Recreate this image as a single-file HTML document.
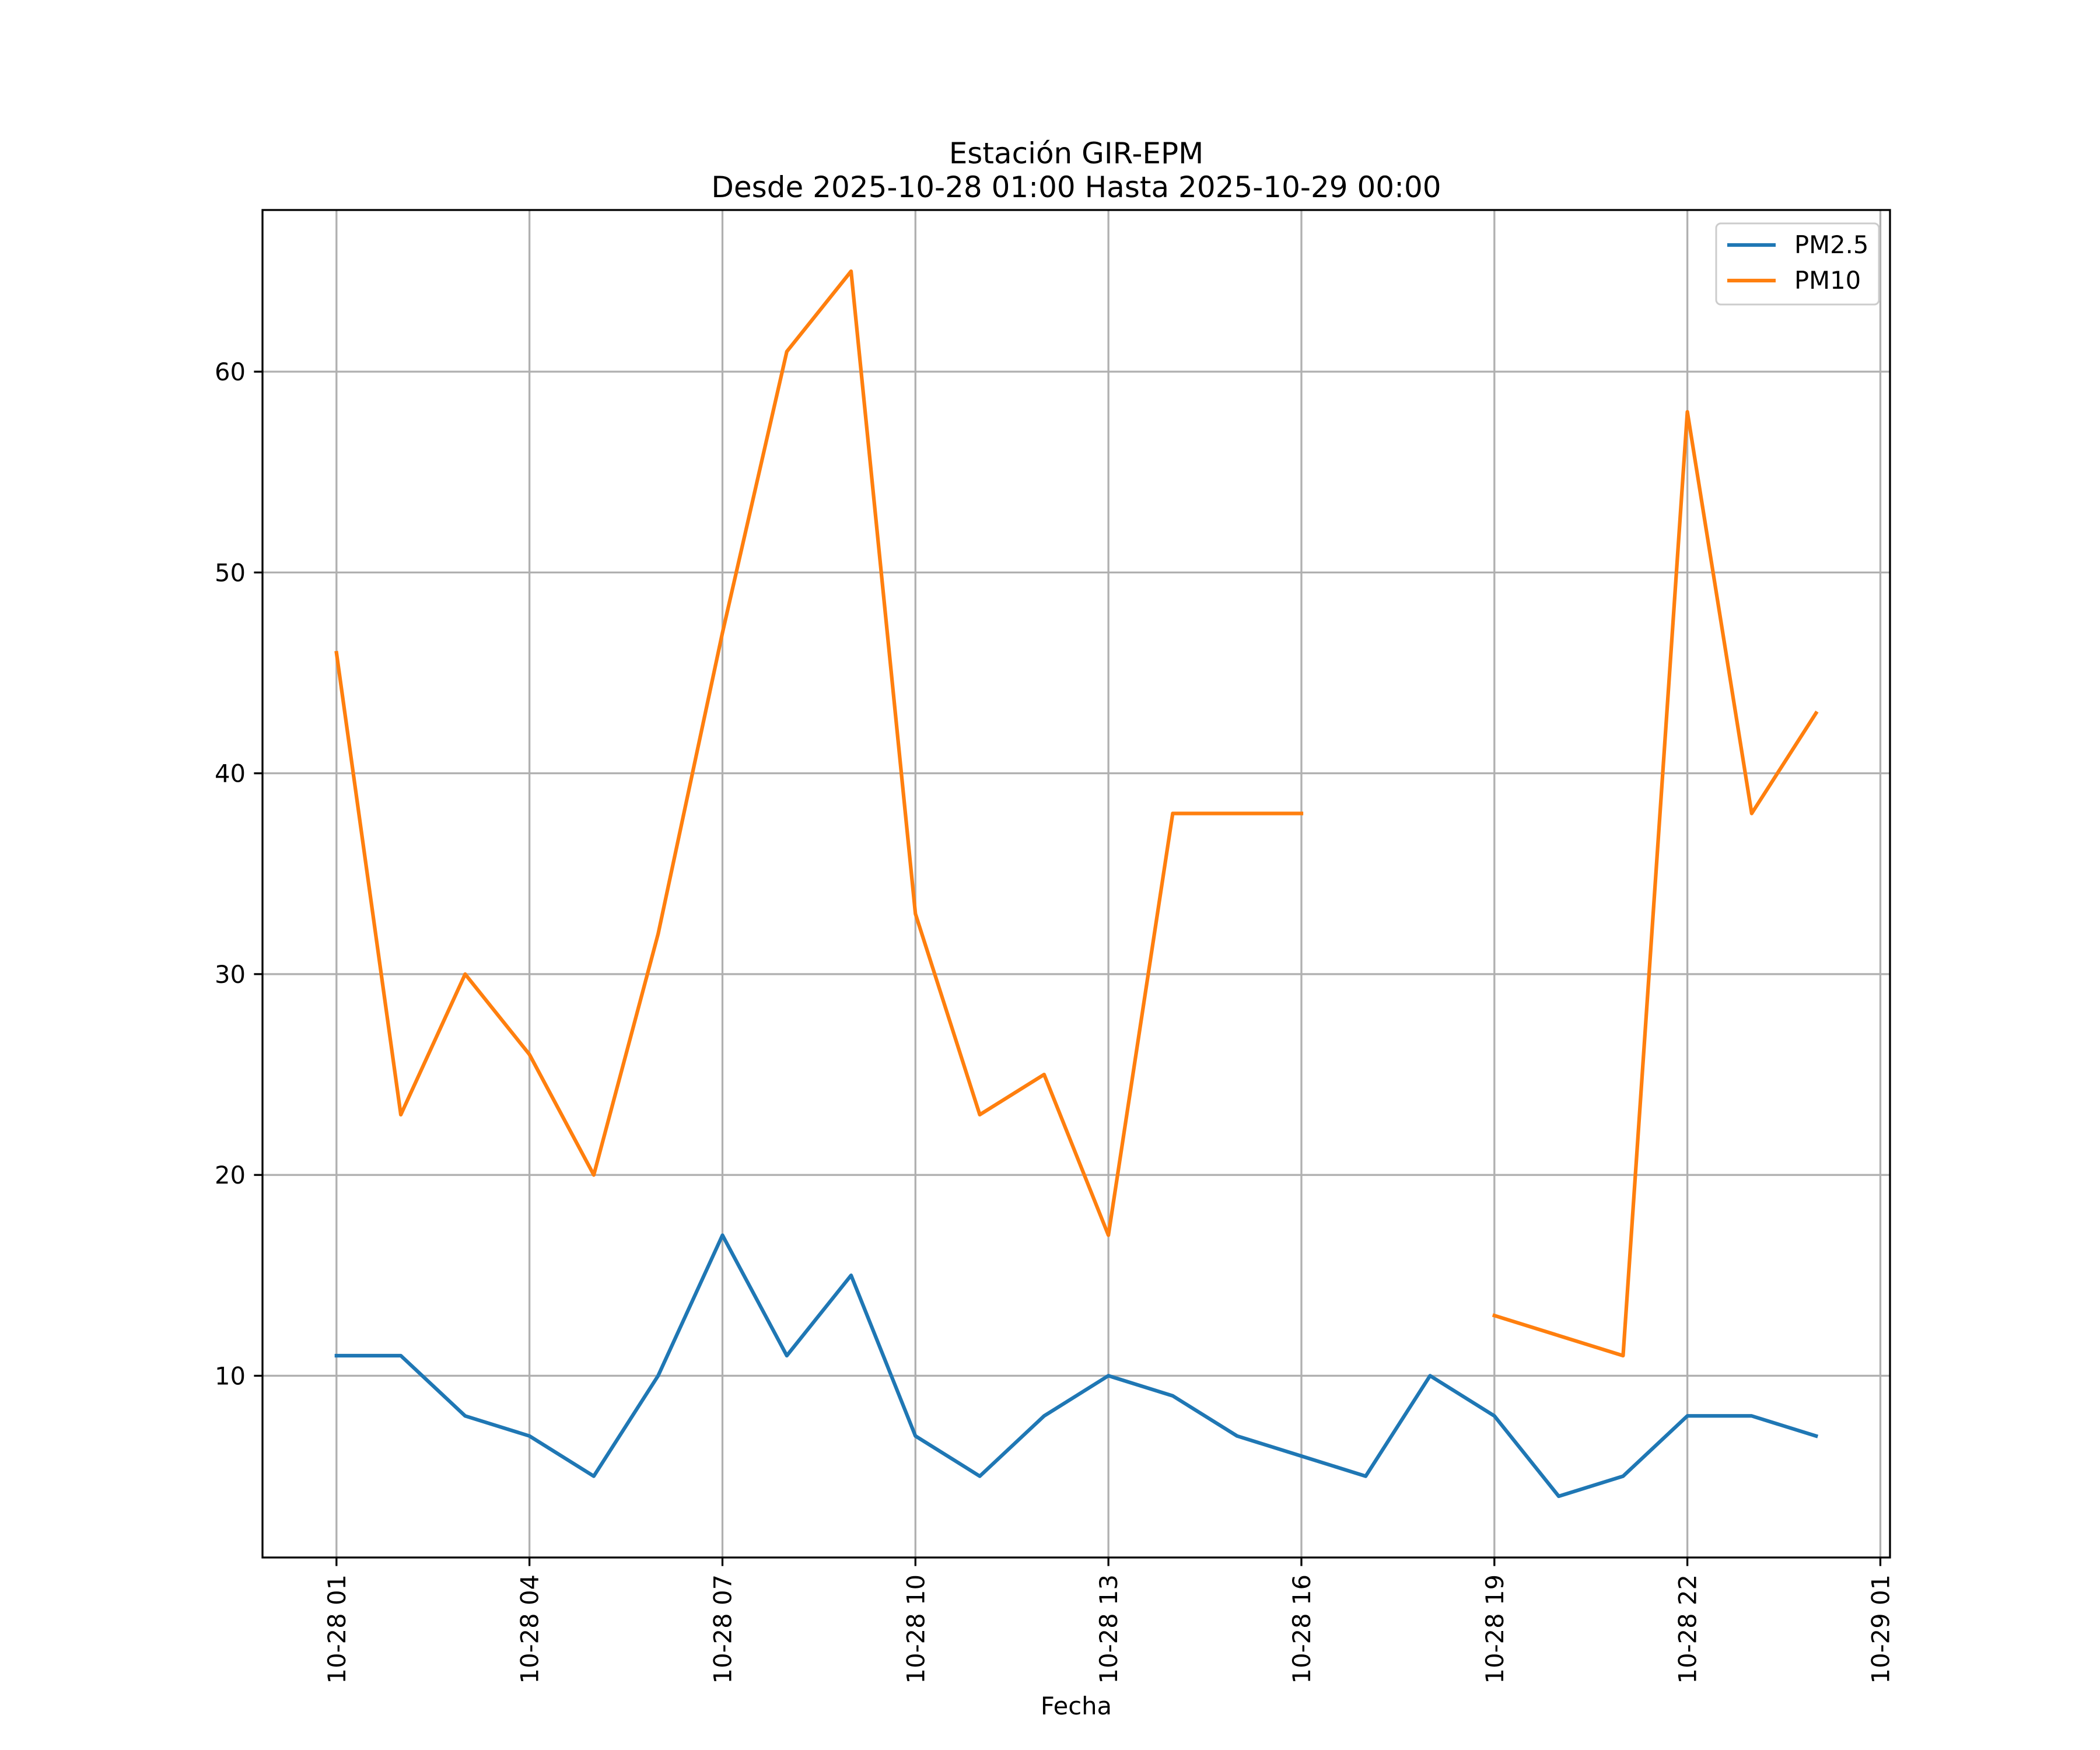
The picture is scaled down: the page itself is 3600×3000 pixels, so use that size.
<!DOCTYPE html>
<html><head><meta charset="utf-8"><style>
html,body{margin:0;padding:0;background:#fff}
svg{display:block}
text{font-family:"DejaVu Sans","Liberation Sans",sans-serif;fill:#000}
</style></head><body>
<svg id="chart" width="3600" height="3000" viewBox="0 0 3600 3000" xmlns="http://www.w3.org/2000/svg">
<rect width="3600" height="3000" fill="#fff"/>
<text x="1845" y="280" font-size="50" text-anchor="middle">Estación GIR-EPM</text>
<text x="1845" y="338" font-size="50" text-anchor="middle">Desde 2025-10-28 01:00 Hasta 2025-10-29 00:00</text>
<g id="grid"></g><g id="series"></g><g id="axes"></g>
<text x="1845" y="2939" font-size="41.7" text-anchor="middle">Fecha</text>
<g>
<rect x="2942" y="383" width="279" height="139" rx="8" fill="#fff" fill-opacity="0.8" stroke="#ccc" stroke-width="3"/>
<line x1="2961" y1="420" x2="3044" y2="420" stroke="#1f77b4" stroke-width="6.25"/>
<text x="3076" y="434" font-size="41.7">PM2.5</text>
<line x1="2961" y1="481" x2="3044" y2="481" stroke="#ff7f0e" stroke-width="6.25"/>
<text x="3076" y="495" font-size="41.7">PM10</text>
</g>
</svg>
<script>
const hours = [0,1,2,3,4,5,6,7,8,9,10,11,12,13,14,15,16,17,18,19,20,21,22,23];
const pm25 = [11,11,8,7,5,10,17,11,15,7,5,8,10,9,7,6,5,10,8,4,5,8,8,7];
const pm10 = [46,23,30,26,20,32,47,61,65,33,23,25,17,38,38,38,null,null,13,12,11,58,38,43];
const xTickHours = [0,3,6,9,12,15,18,21,24];
const xTickLabels = ["10-28 01","10-28 04","10-28 07","10-28 10","10-28 13","10-28 16","10-28 19","10-28 22","10-29 01"];
const yTicks = [10,20,30,40,50,60];

const L=450,R=3240,T=360,B=2670;
const allv=pm25.concat(pm10).filter(v=>v!==null);
const ymin=Math.min(...allv), ymax=Math.max(...allv);
const ypad=(ymax-ymin)*0.05, y0=ymin-ypad, y1=ymax+ypad;
const xmin0=Math.min(...hours), xmax0=Math.max(...hours), xpad=(xmax0-xmin0)*0.05;
const x0=xmin0-xpad, x1=xmax0+xpad;
const sx=h=>L+(h-x0)/(x1-x0)*(R-L);
const sy=v=>B-(v-y0)/(y1-y0)*(B-T);
const NS="http://www.w3.org/2000/svg";
function mk(tag,attrs,parent){const e=document.createElementNS(NS,tag);for(const k in attrs)e.setAttribute(k,attrs[k]);parent.appendChild(e);return e;}
const grid=document.getElementById('grid'),axes=document.getElementById('axes'),ser=document.getElementById('series');
xTickHours.forEach((h,i)=>{
  const x=sx(h);
  const g=mk('line',{x1:x,x2:x,y1:T,y2:B,stroke:'#b0b0b0','stroke-width':3.3},grid);
  
  
  const t=mk('line',{x1:x,x2:x,y1:B,y2:B+14.6,stroke:'#000','stroke-width':3.3},axes);
  
  
  const tx=mk('text',{x:0,y:0,'font-size':41.7,'text-anchor':'end',transform:`translate(${x+15},${B+29}) rotate(-90)`},axes);
  tx.textContent=xTickLabels[i];
  
  
});
yTicks.forEach(v=>{
  const y=sy(v);
  const g=mk('line',{x1:L,x2:R,y1:y,y2:y,stroke:'#b0b0b0','stroke-width':3.3},grid);
  
  
  const t=mk('line',{x1:L-14.6,x2:L,y1:y,y2:y,stroke:'#000','stroke-width':3.3},axes);
  
  
  const tx=mk('text',{x:L-29,y:y+15,'font-size':41.7,'text-anchor':'end'},axes);
  tx.textContent=v;
  
  
});
const frame=mk('rect',{x:L,y:T,width:R-L,height:B-T,fill:'none',stroke:'#000','stroke-width':3.3},axes);


function drawSeries(vals,color,name){
  let d='',pen=false;
  vals.forEach((v,i)=>{
    if(v===null){pen=false;return;}
    d+=(pen?'L':'M')+sx(hours[i]).toFixed(1)+' '+sy(v).toFixed(1)+' ';pen=true;
  });
  const p=mk('path',{d:d,fill:'none',stroke:color,'stroke-width':6.25,'stroke-linejoin':'round','stroke-linecap':'square'},ser);
  
  
}
drawSeries(pm25,'#1f77b4','pm25-line');
drawSeries(pm10,'#ff7f0e','pm10-line');
</script>
</body></html>
